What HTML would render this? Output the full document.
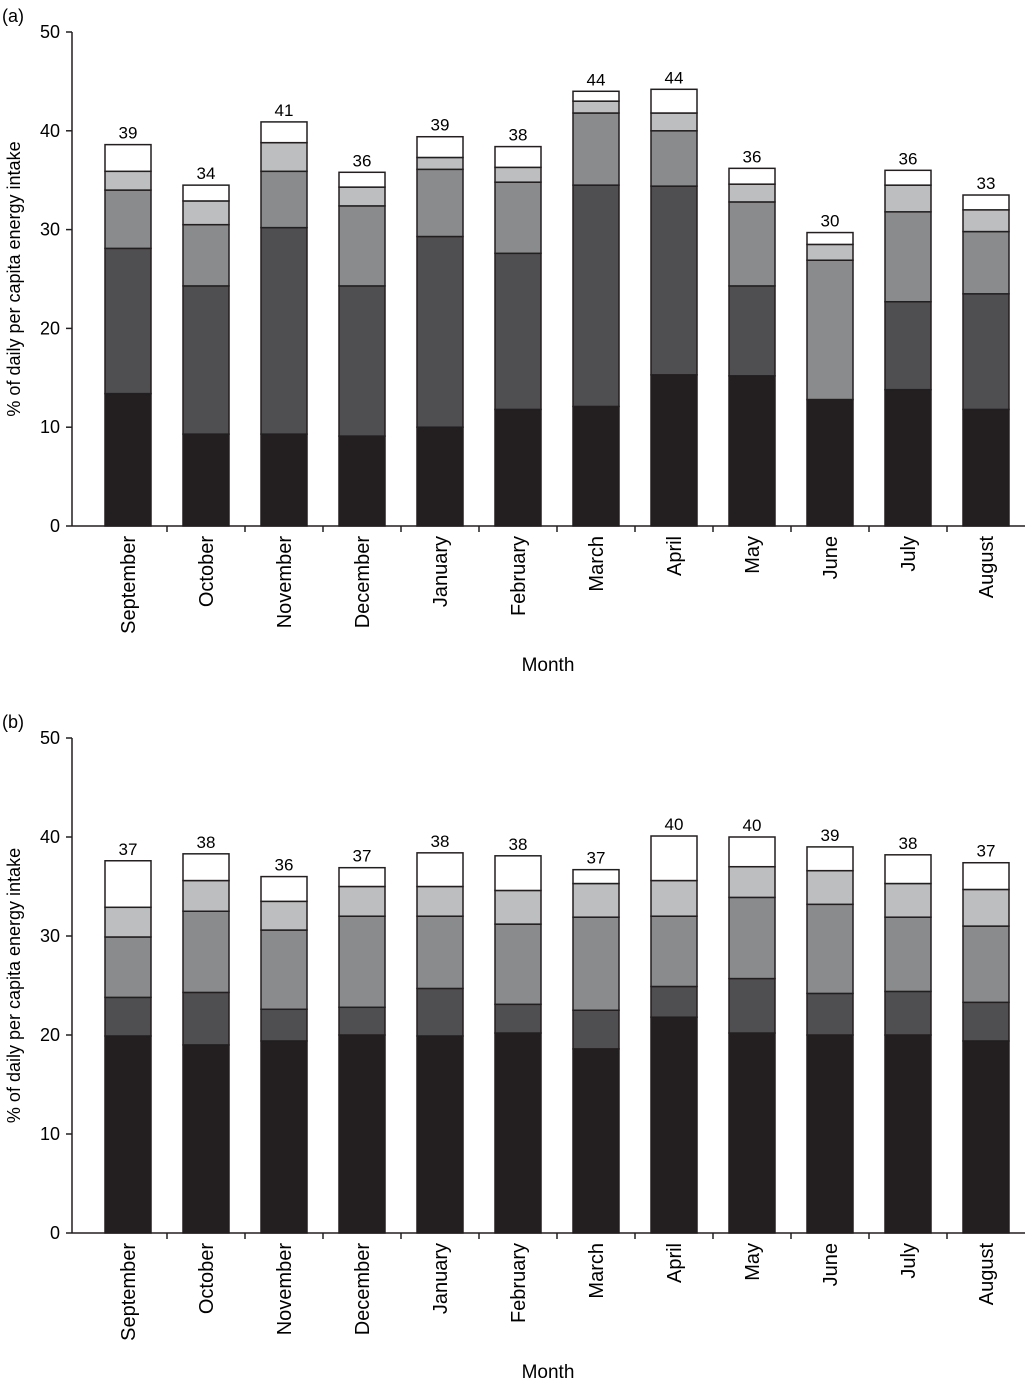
<!DOCTYPE html>
<html><head><meta charset="utf-8"><style>
body{margin:0;background:#fff;}
svg{display:block;font-family:"Liberation Sans",Arial,sans-serif;}
</style></head><body>
<svg id="c" width="1027" height="1385" viewBox="0 0 1027 1385"></svg>
<script>
const months=["September","October","November","December","January","February","March","April","May","June","July","August"];
const ticks=[0,10,20,30,40,50];
// panel (a) segment values (bottom to top)
const a1=[13.4,9.3,9.3,9.1,10.0,11.8,12.1,15.3,15.2,12.8,13.8,11.8];
const a2=[14.7,15.0,20.9,15.2,19.3,15.8,22.4,19.1,9.1,0,8.9,11.7];
const a3=[5.9,6.2,5.7,8.1,6.8,7.2,7.3,5.6,8.5,14.1,9.1,6.3];
const a4=[1.9,2.4,2.9,1.9,1.2,1.5,1.2,1.8,1.8,1.6,2.7,2.2];
const a5=[2.7,1.6,2.1,1.5,2.1,2.1,1.0,2.4,1.6,1.2,1.5,1.5];
const aTotals=["39","34","41","36","39","38","44","44","36","30","36","33"];
// panel (b)
const b1=[19.9,19.0,19.4,20.0,19.9,20.2,18.6,21.8,20.2,20.0,20.0,19.4];
const b2=[3.9,5.3,3.2,2.8,4.8,2.9,3.9,3.1,5.5,4.2,4.4,3.9];
const b3=[6.1,8.2,8.0,9.2,7.3,8.1,9.4,7.1,8.2,9.0,7.5,7.7];
const b4=[3.0,3.1,2.9,3.0,3.0,3.4,3.4,3.6,3.1,3.4,3.4,3.7];
const b5=[4.7,2.7,2.5,1.9,3.4,3.5,1.4,4.5,3.0,2.4,2.9,2.7];
const bTotals=["37","38","36","37","38","38","37","40","40","39","38","37"];

const NS="http://www.w3.org/2000/svg";
const svg=document.getElementById('c');
const colors=["#231f20","#4f4f51","#8a8b8d","#bdbec0","#ffffff"];
function mk(t,at,p){const e=document.createElementNS(NS,t);for(const k in at)e.setAttribute(k,at[k]);(p||svg).appendChild(e);return e;}
function panel(tag,series,totals,y0,y50,labelY){
  const g=mk('g',{});
  
  
  const x0=72,x1=1025;
  const yS=v=>y0-(y0-y50)*v/50;
  const step=78;
  const xC=i=>128+step*i;
  const bw=46;
  const pl=mk('text',{x:2,y:y50-10,'font-size':18,fill:'#000'},g);pl.textContent='('+tag+')';
  
  months.forEach((m,i)=>{
    let cum=0;
    series.forEach((s,k)=>{
      const v=s[i];if(v<=0)return;
      const r=mk('rect',{x:xC(i)-bw/2,y:yS(cum+v),width:bw,height:yS(cum)-yS(cum+v),fill:colors[k],stroke:'#231f20','stroke-width':1.5},g);
      
      
      cum+=v;
    });
    const t=mk('text',{x:xC(i),y:yS(cum)-6,'text-anchor':'middle','font-size':17},g);t.textContent=totals[i];
    
    const ml=mk('text',{transform:`translate(${xC(i)+7},${y0+10}) rotate(-90)`,'text-anchor':'end','font-size':20},g);ml.textContent=m;
    
    if(i>0){mk('line',{x1:xC(i)-step/2,x2:xC(i)-step/2,y1:y0,y2:y0+6,stroke:'#231f20','stroke-width':1.5},g);}
  });
  mk('line',{x1:x0,x2:x1,y1:y0,y2:y0,stroke:'#231f20','stroke-width':1.5},g);
  mk('line',{x1:x0,x2:x0,y1:y0,y2:y50,stroke:'#231f20','stroke-width':1.5},g);
  ticks.forEach(v=>{
    mk('line',{x1:x0-6,x2:x0,y1:yS(v),y2:yS(v),stroke:'#231f20','stroke-width':1.5},g);
    const t=mk('text',{x:x0-12,y:yS(v)+6,'text-anchor':'end','font-size':18},g);t.textContent=v;
    
  });
  const yt=mk('text',{transform:`translate(20,${(y0+y50)/2}) rotate(-90)`,'text-anchor':'middle','font-size':18},g);
  yt.textContent='% of daily per capita energy intake';
  
  const xt=mk('text',{x:548,y:labelY,'text-anchor':'middle','font-size':19},g);xt.textContent='Month';
  
}
panel('a',[a1,a2,a3,a4,a5],aTotals,526,32,671);
panel('b',[b1,b2,b3,b4,b5],bTotals,1233,738,1378);
</script>
</body></html>
